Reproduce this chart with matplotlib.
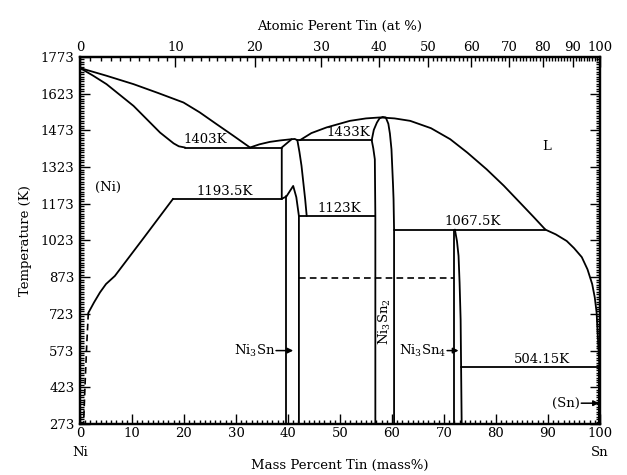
import numpy as np
import matplotlib.pyplot as plt

plt.rcParams['font.family'] = 'DejaVu Serif'
plt.rcParams['mathtext.fontset'] = 'dejavuserif'
plt.rcParams['font.size'] = 9.5

M_NI = 58.693
M_SN = 118.71

# phase boundaries: mass% Sn, temperature in K
liq_ni_w = [0, 5, 10.3, 15, 19.9, 23, 26.3, 29.5, 32.7]
liq_ni_T = [1728, 1697, 1662, 1626, 1587, 1547, 1498, 1451, 1403]

sol_ni_w = [0, 2.5, 5.1, 10.3, 15.4, 18.0, 19.0, 20.2]
sol_ni_T = [1728, 1697, 1662, 1573, 1464, 1420, 1408, 1403]

solvus_ni_w = [17.9, 12.3, 6.7, 5.0, 3.85, 2.7, 1.6]
solvus_ni_T = [1193.5, 1035, 878, 845, 811, 770, 727]

solvus_ni_dash_w = [1.6, 1.3, 1.0, 0.7]
solvus_ni_dash_T = [727, 600, 450, 280]

liq_mid_w = [32.7, 34.5, 36.5, 38.5, 40.7]
liq_mid_T = [1403, 1416, 1426, 1432, 1437]

ni3sn_ht_w = [38.8, 38.8, 40.7, 41.3, 41.8, 42.2, 42.6, 43.0, 43.3, 43.6]
ni3sn_ht_T = [1193.5, 1403, 1437, 1438, 1433, 1385, 1328, 1250, 1192, 1123]

ni3sn_lt_w = [38.8, 39.7, 41.0, 41.6, 42.1, 42.1]
ni3sn_lt_T = [1193.5, 1203, 1246, 1200, 1123, 273]
ni3sn_lt_left_w = [39.7, 39.7]
ni3sn_lt_left_T = [1203, 273]

liq_big_w = [42.3, 44.5, 47.4, 51.9, 55.0, 57.7, 60.5, 63.5, 67.5, 71.2,
             74.5, 78.2, 81.5, 84.6, 87.2, 89.5]
liq_big_T = [1433, 1462, 1485, 1512, 1522, 1526, 1522, 1512, 1482, 1437,
             1382, 1314, 1247, 1178, 1120, 1067.5]

liq_sn_w = [89.5, 91.5, 93.6, 95.0, 96.5, 97.6, 98.5, 99.0, 99.35, 99.65, 99.9]
liq_sn_T = [1067.5, 1048, 1021, 992, 955, 905, 845, 790, 729, 606, 504.15]

ni3sn2_w = [56.8, 56.8, 56.7, 56.4, 56.1, 56.5, 57.1, 57.6, 58.2, 58.8,
            59.3, 59.6, 59.9, 60.2, 60.3, 60.4, 60.4]
ni3sn2_T = [273, 1123, 1355, 1400, 1433, 1475, 1505, 1522, 1528, 1526,
            1500, 1460, 1396, 1250, 1192, 1067.5, 273]

ni3sn4_left_w = [71.9, 71.9]
ni3sn4_left_T = [1067.5, 273]
ni3sn4_right_w = [72.1, 72.5, 72.8, 73.0, 73.2, 73.4]
ni3sn4_right_T = [1067.5, 1020, 960, 850, 700, 273]

sn_side_w = [99.85, 99.85]
sn_side_T = [273, 504.15]

# invariant lines: (T, w from, w to, label, label w)
invariants = [
    (1403, 20.2, 38.8, '1403K', 24.0),
    (1193.5, 17.9, 38.8, '1193.5K', 27.9),
    (1433, 41.8, 56.1, '1433K', 51.6),
    (1123, 42.1, 56.8, '1123K', 49.8),
    (1067.5, 60.4, 89.5, '1067.5K', 75.6),
    (504.15, 73.3, 100, '504.15K', 88.8),
]
dashed_T = 870
dashed_w = [42.1, 71.9]

y_major = np.arange(273, 1774, 150)
y_minor = np.arange(273, 1774, 10)
x_major = np.arange(0, 101, 10)
at_major = np.arange(0, 101, 10)
at_minor = np.arange(0, 101, 1)


def at_to_mass(a):
    a = np.asarray(a, dtype=float)
    return a * M_SN / (a * M_SN + (100 - a) * M_NI) * 100


fig = plt.figure(figsize=(6.27, 4.75), dpi=100)
ax = fig.add_axes([0.1276, 0.1074, 0.8293, 0.7726])

kw = dict(color='black', lw=1.3, solid_capstyle='round', solid_joinstyle='round')
ax.plot(liq_ni_w, liq_ni_T, **kw)
ax.plot(sol_ni_w, sol_ni_T, **kw)
ax.plot(solvus_ni_w, solvus_ni_T, **kw)
ax.plot(solvus_ni_dash_w, solvus_ni_dash_T, color='black', lw=1.2, ls=(0, (4, 2.5)))
ax.plot(liq_mid_w, liq_mid_T, **kw)
ax.plot(ni3sn_ht_w, ni3sn_ht_T, **kw)
ax.plot(ni3sn_lt_w, ni3sn_lt_T, **kw)
ax.plot(ni3sn_lt_left_w, ni3sn_lt_left_T, **kw)
ax.plot(liq_big_w, liq_big_T, **kw)
ax.plot(liq_sn_w, liq_sn_T, **kw)
ax.plot(ni3sn2_w, ni3sn2_T, **kw)
ax.plot(ni3sn4_left_w, ni3sn4_left_T, **kw)
ax.plot(ni3sn4_right_w, ni3sn4_right_T, **kw)
ax.plot(sn_side_w, sn_side_T, color='black', lw=2.2)

for T, w0, w1, lab, lw_ in invariants:
    ax.plot([w0, w1], [T, T], **kw)
    ax.text(lw_, T + 5, lab, ha='center', va='bottom')
ax.plot(dashed_w, [dashed_T, dashed_T], color='black', lw=1.2, ls=(0, (4, 2.5)))

ax.text(5.4, 1241, '(Ni)', ha='center', va='center')
ax.text(89.7, 1407, 'L', ha='center', va='center')
ax.text(58.7, 690, 'Ni$_3$Sn$_2$', rotation=90, ha='center', va='center')

arrow = dict(arrowstyle='-|>', color='black', lw=1.1, mutation_scale=8,
             shrinkA=0, shrinkB=0)
ax.text(37.6, 573, 'Ni$_3$Sn', ha='right', va='center')
ax.annotate('', xy=(41.0, 573), xytext=(37.7, 573), arrowprops=arrow)
ax.text(70.5, 573, 'Ni$_3$Sn$_4$', ha='right', va='center')
ax.annotate('', xy=(72.8, 573), xytext=(70.6, 573), arrowprops=arrow)
ax.text(96.2, 358, '(Sn)', ha='right', va='center')
ax.annotate('', xy=(99.8, 358), xytext=(96.4, 358), arrowprops=arrow)

ax.set_xlim(0, 100)
ax.set_ylim(273, 1773)
ax.set_xticks(x_major)
ax.set_xticks(np.arange(0, 101, 1), minor=True)
ax.set_yticks(y_major)
ax.set_yticks(y_minor, minor=True)
ax.tick_params(which='both', direction='in', right=True, top=False, width=1)
ax.tick_params(which='major', length=7, pad=2)
ax.tick_params(which='minor', length=3)
ax.tick_params(axis='y', which='major', pad=4)
for s in ax.spines.values():
    s.set_linewidth(1.6)

ax.set_xlabel('Mass Percent Tin (mass%)', labelpad=14)
ax.set_ylabel('Temperature (K)', labelpad=6)
ax.annotate('Ni', xy=(0, 0), xycoords=('data', 'axes fraction'),
            xytext=(0, -16), textcoords='offset points', ha='center', va='top')
ax.annotate('Sn', xy=(100, 0), xycoords=('data', 'axes fraction'),
            xytext=(0, -16), textcoords='offset points', ha='center', va='top')

ax2 = ax.twiny()
ax2.set_xlim(0, 100)
ax2.set_xticks(at_to_mass(at_major))
ax2.set_xticklabels([str(v) for v in at_major])
ax2.set_xticks(at_to_mass(at_minor), minor=True)
ax2.tick_params(which='both', direction='in', width=1)
ax2.tick_params(which='major', length=7, pad=2)
ax2.tick_params(which='minor', length=3)
ax2.set_xlabel('Atomic Perent Tin (at %)', labelpad=8)
for s in ax2.spines.values():
    s.set_linewidth(1.6)

fig.savefig('out.png', dpi=100)
